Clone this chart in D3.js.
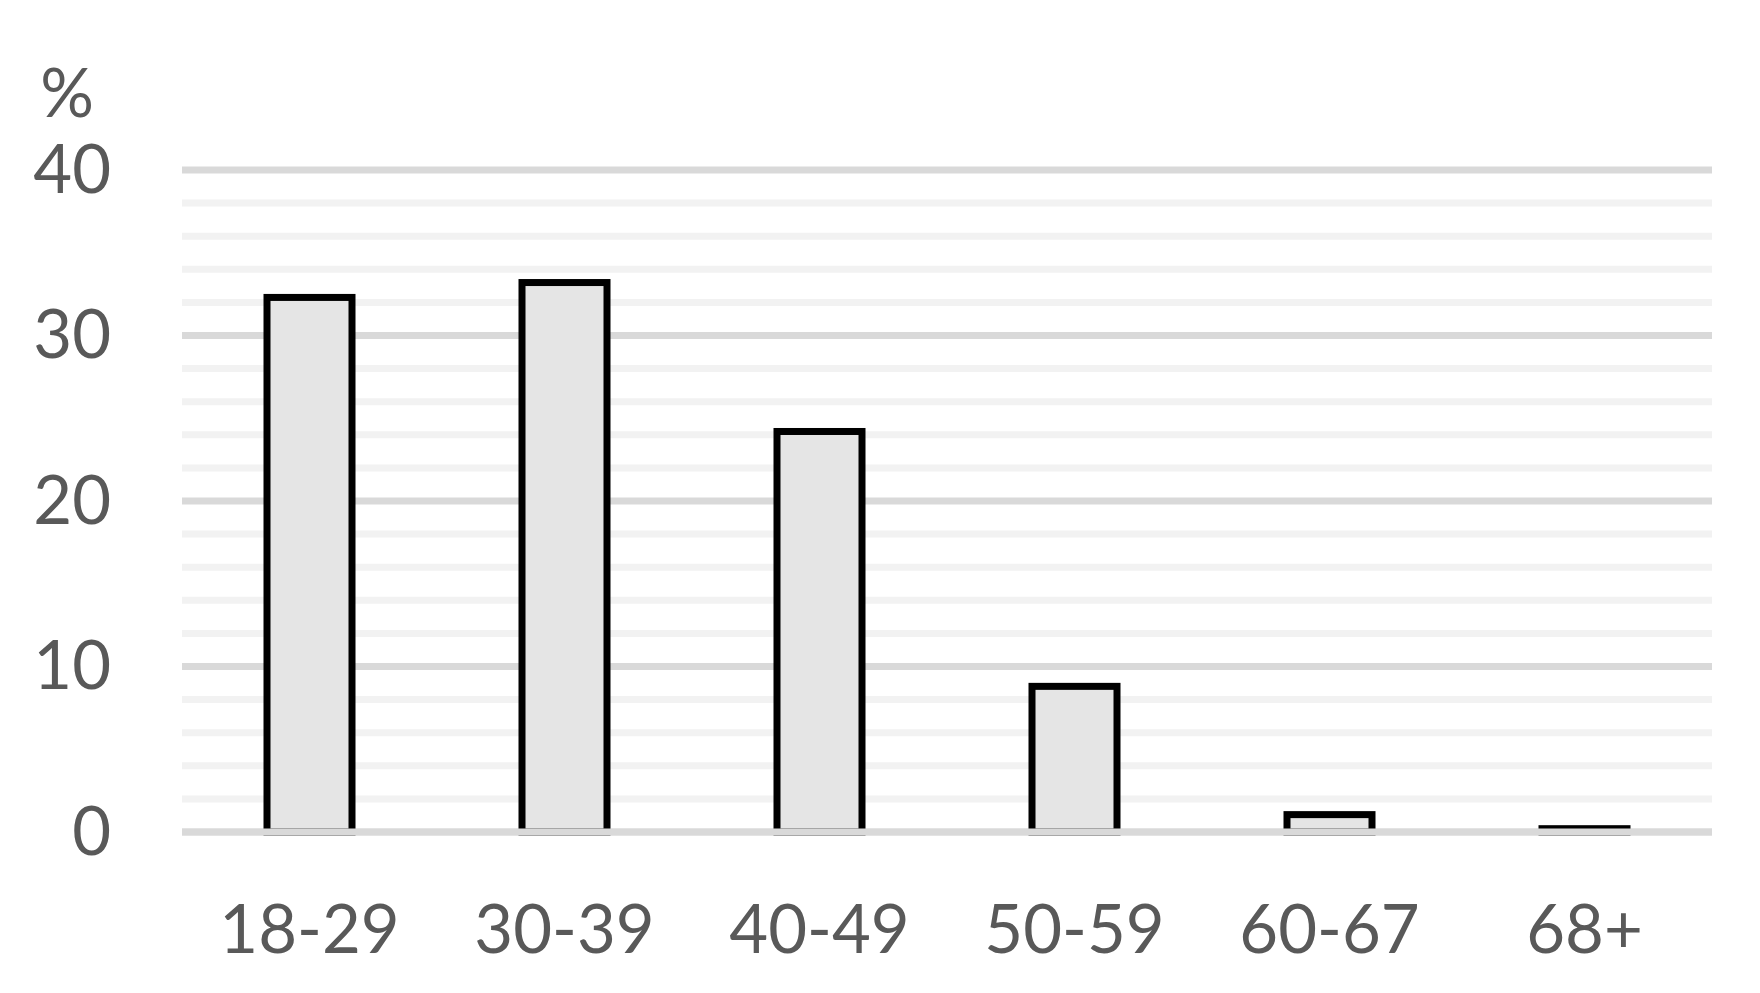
<!DOCTYPE html>
<meta charset="utf-8">
<script src="https://d3js.org/d3.v7.min.js"></script>
<style>
  body { margin: 0; background: #fff; }
  svg { display: block; }
  text { font-family: Lato, "Open Sans", sans-serif; fill: #595959; }
</style>
<body>
<svg id="chart" width="1760" height="993"></svg>
<script>
  // data
  var ageGroups = ["18-29", "30-39", "40-49", "50-59", "60-67", "68+"];
  var shares = [32.3, 33.2, 24.2, 8.8, 1.05, 0.2];
  var yTicks = [0, 10, 20, 30, 40];
  var yMinor = [2, 4, 6, 8, 12, 14, 16, 18, 22, 24, 26, 28, 32, 34, 36, 38];

  var margin = {top: 170, right: 48, bottom: 161, left: 182},
      width = 1760 - margin.left - margin.right,
      height = 993 - margin.top - margin.bottom;

  var svg = d3.select("#chart")
    .append("g")
      .attr("transform", "translate(" + margin.left + "," + margin.top + ")");

  var x = d3.scaleBand()
    .domain(ageGroups)
    .range([0, width])
    .paddingInner(2 / 3)
    .paddingOuter(1 / 3);

  var y = d3.scaleLinear()
    .domain([0, 40])
    .range([height, 0]);

  // minor grid lines
  svg.selectAll(".minor")
      .data(yMinor)
    .enter().append("line")
      .attr("class", "minor")
      .attr("x1", 0)
      .attr("x2", width)
      .attr("y1", function(d) { return y(d); })
      .attr("y2", function(d) { return y(d); })
      .style("stroke", "#f2f2f2")
      .style("stroke-width", 7);

  // major grid lines
  svg.selectAll(".major")
      .data(yTicks)
    .enter().append("line")
      .attr("class", "major")
      .attr("x1", 0)
      .attr("x2", width)
      .attr("y1", function(d) { return y(d); })
      .attr("y2", function(d) { return y(d); })
      .style("stroke", "#d9d9d9")
      .style("stroke-width", 7);

  // bars
  svg.selectAll(".bar")
      .data(shares)
    .enter().append("rect")
      .attr("class", "bar")
      .attr("x", function(d, i) { return x(ageGroups[i]); })
      .attr("y", function(d) { return y(d); })
      .attr("width", x.bandwidth())
      .attr("height", function(d) { return y(0) - y(d); })
      .style("fill", "#e5e5e5")
      .style("stroke", "#000")
      .style("stroke-width", 7);

  // baseline over the bar bottoms
  svg.append("line")
      .attr("x1", 0)
      .attr("x2", width)
      .attr("y1", y(0))
      .attr("y2", y(0))
      .style("stroke", "#d9d9d9")
      .style("stroke-width", 7);

  // y axis labels
  var yAxis = svg.append("g")
      .attr("transform", "translate(-71,0)")
      .call(d3.axisLeft(y).tickValues(yTicks).tickSize(0).tickPadding(0));
  yAxis.select(".domain").remove();
  yAxis.selectAll("text")
      .attr("dy", "0.33em")
      .style("font-size", "67px")
      .style("font-family", "Lato, 'Open Sans', sans-serif")
      .style("fill", "#595959");

  // x axis labels
  var xAxis = svg.append("g")
      .attr("transform", "translate(0," + height + ")")
      .call(d3.axisBottom(x).tickSize(0).tickPadding(0));
  xAxis.select(".domain").remove();
  xAxis.selectAll("text")
      .attr("y", 121)
      .attr("dy", 0)
      .style("font-size", "67px")
      .style("font-family", "Lato, 'Open Sans', sans-serif")
      .style("fill", "#595959");

  // unit label
  svg.append("text")
      .attr("x", 67 - margin.left)
      .attr("y", 117 - margin.top)
      .attr("text-anchor", "middle")
      .style("font-size", "67px")
      .text("%");
</script>
</body>
